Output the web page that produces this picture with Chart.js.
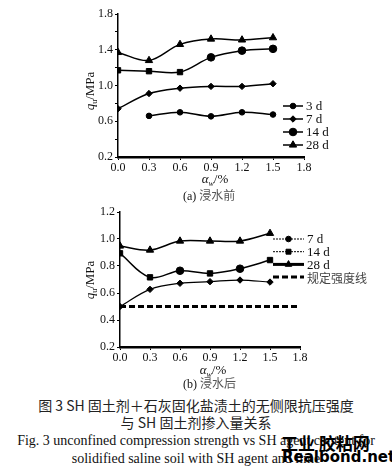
<!DOCTYPE html>
<html>
<head>
<meta charset="utf-8">
<script src="https://cdn.jsdelivr.net/npm/chart.js@4/dist/chart.umd.min.js"></script>
<style>
    body { margin: 0; background: #fff; }
    #page { position: relative; width: 392px; height: 472px; overflow: hidden; font-family: 'Liberation Serif', serif; color: #111; }
    canvas { position: absolute; left: 0; }
    .lbl { position: absolute; white-space: nowrap; line-height: 1; }
    .cjk { font-family: 'Noto Sans CJK SC', sans-serif; }
    .ytitle { transform: translate(-50%, -50%) rotate(-90deg); font-size: 13px; }
    .xtitle { transform: translate(-50%, -50%); font-size: 13px; }
    .cap { position: absolute; left: 0; width: 392px; text-align: center; font-size: 14px; line-height: 1; white-space: nowrap; }
</style>
</head>
<body>
<div id="page">
    <canvas id="chartA" width="392" height="175" style="top:0"></canvas>
    <canvas id="chartB" width="392" height="170" style="top:195px"></canvas>

    <div class="lbl ytitle" style="left:91px; top:91px"><i>q</i><sub style="font-size:8px">u</sub>/MPa</div>
    <div class="lbl xtitle" style="left:215px; top:180px"><i>α</i><sub style="font-size:8px"><i>w</i></sub>/%</div>
    <div class="lbl" style="left:183px; top:189px; font-size:12px">(a) <span class="cjk" style="color:#555">浸水前</span></div>

    <div class="lbl ytitle" style="left:91px; top:280px"><i>q</i><sub style="font-size:8px">u</sub>/MPa</div>
    <div class="lbl xtitle" style="left:213px; top:371px"><i>α</i><sub style="font-size:8px"><i>w</i></sub>/%</div>
    <div class="lbl" style="left:183px; top:377px; font-size:12px">(b) <span class="cjk" style="color:#555">浸水后</span></div>

    <div class="cap cjk" style="top:398px; font-size:14px; color:#222">图 3 SH 固土剂＋石灰固化盐渍土的无侧限抗压强度</div>
    <div class="cap cjk" style="top:415px; font-size:14px; color:#222">与 SH 固土剂掺入量关系</div>
    <div class="cap" style="top:434px">Fig. 3 unconfined compression strength vs SH agent content for</div>
    <div class="cap" style="top:452px">solidified saline soil with SH agent and lime</div>

    <div class="lbl cjk" style="left:281px; top:434px; font-size:17px; font-weight:bold; color:#000">工业 胶粘网</div>
    <div class="lbl" style="left:282px; top:450px; font-size:15px; font-weight:bold; color:#000; font-family:'DejaVu Sans', sans-serif">Realbond.net</div>
</div>

<script>
// 数据
const dosage = [0.0, 0.3, 0.6, 0.9, 1.2, 1.5];
const xTicks = [0.0, 0.3, 0.6, 0.9, 1.2, 1.5, 1.8];

// (a) 浸水前
const a3d = [null, 0.66, 0.70, 0.655, 0.70, 0.675];
const a7d = [0.74, 0.91, 0.97, 0.99, 0.99, 1.02];
const a14d = [1.17, 1.16, 1.15, 1.315, 1.39, 1.41];
const a28d = [1.37, 1.28, 1.46, 1.52, 1.51, 1.535];
const yTicksA = [0.2, 0.4, 0.6, 0.8, 1.0, 1.2, 1.4, 1.6, 1.8];
const yLabelsA = [0.2, 0.6, 1.0, 1.4, 1.8];

// (b) 浸水后
const b7d = [0.50, 0.627, 0.672, 0.684, 0.696, 0.681];
const b14d = [0.894, 0.716, 0.765, 0.745, 0.78, 0.844];
const b28d = [0.948, 0.918, 0.985, 0.985, 0.985, 1.042];
const reqStrength = 0.5;
const yTicksB = [0.2, 0.3, 0.4, 0.5, 0.6, 0.7, 0.8, 0.9, 1.0, 1.1, 1.2];
const yLabelsB = [0.2, 0.4, 0.6, 0.8, 1.0, 1.2];

const serif = "'Liberation Serif', serif";

function pts(vals) {
    return dosage.map((x, i) => ({ x: x, y: vals[i] })).filter(p => p.y !== null);
}

function lineSet(label, vals, style, radius, width) {
    return {
        label: label,
        data: pts(vals),
        borderColor: '#000',
        backgroundColor: '#000',
        borderWidth: width,
        pointStyle: style,
        pointRadius: radius,
        pointBorderWidth: 1,
        pointBackgroundColor: '#000',
        pointBorderColor: '#000',
        tension: 0.35
    };
}

// 图例：在画布上手动绘制
const manualLegend = {
    id: 'manualLegend',
    afterDraw(chart, args, opts) {
        const ctx = chart.ctx;
        ctx.save();
        opts.items.forEach((it, i) => {
            const y = opts.y0 + i * opts.dy;
            ctx.strokeStyle = '#000';
            ctx.lineWidth = it.lw;
            ctx.setLineDash(it.dash || []);
            ctx.beginPath();
            ctx.moveTo(opts.x0, y);
            ctx.lineTo(opts.x1, y);
            ctx.stroke();
            ctx.setLineDash([]);
            if (it.style) {
                ctx.fillStyle = '#000';
                ctx.lineWidth = 1;
                Chart.helpers.drawPoint(ctx, { pointStyle: it.style, radius: it.r, rotation: 0, borderWidth: 1 }, (opts.x0 + opts.x1) / 2, y);
            }
            ctx.fillStyle = it.color || '#111';
            ctx.font = it.font || ('13px ' + serif);
            ctx.textBaseline = 'middle';
            ctx.fillText(it.label, opts.x1 + 3, y + 1);
        });
        ctx.restore();
    }
};

function axes(yTicks, yLabels, yMin, yMax, yWidth, xHeight) {
    return {
        x: {
            type: 'linear',
            min: 0,
            max: 1.8,
            afterBuildTicks: s => { s.ticks = xTicks.map(v => ({ value: v })); },
            afterFit: s => { s.height = xHeight; },
            ticks: { color: '#111', font: { family: serif, size: 12 }, padding: 1, maxRotation: 0, callback: v => v.toFixed(1) },
            grid: { drawOnChartArea: false, tickLength: 3, color: '#000' },
            border: { color: '#000', width: 2.5, dash: [5, 3] }
        },
        y: {
            min: yMin,
            max: yMax,
            afterBuildTicks: s => { s.ticks = yTicks.map(v => ({ value: v })); },
            afterFit: s => { s.width = yWidth; },
            ticks: {
                color: '#111', font: { family: serif, size: 12 }, padding: 2,
                callback: v => yLabels.some(l => Math.abs(l - v) < 1e-6) ? v.toFixed(1) : ''
            },
            grid: { drawOnChartArea: false, tickLength: 3, color: '#000' },
            border: { color: '#000', width: 1.5 }
        }
    };
}

new Chart(document.getElementById('chartA'), {
    type: 'line',
    data: {
        datasets: [
            lineSet('3 d', a3d, 'circle', 2.8, 1.5),
            lineSet('7 d', a7d, 'rectRot', 3.2, 1.5),
            Object.assign(lineSet('14 d', a14d, 'circle', 3.8, 1.5), { pointStyle: ['rect', 'rect', 'rect', 'circle', 'circle', 'circle'] }),
            lineSet('28 d', a28d, 'triangle', 4.2, 1.5)
        ]
    },
    options: {
        responsive: false,
        animation: false,
        devicePixelRatio: 1,
        layout: { padding: { top: 14, right: 88, bottom: 0, left: 0 } },
        scales: axes(yTicksA, yLabelsA, 0.2, 1.8, 118, 18),
        plugins: {
            legend: { display: false },
            tooltip: { enabled: false },
            manualLegend: {
                x0: 283, x1: 303, y0: 106, dy: 13,
                items: [
                    { label: '3 d', style: 'circle', r: 2.8, lw: 1.5 },
                    { label: '7 d', style: 'rectRot', r: 3.2, lw: 1.5 },
                    { label: '14 d', style: 'circle', r: 3.8, lw: 1.5 },
                    { label: '28 d', style: 'triangle', r: 4.2, lw: 1.5 }
                ]
            }
        }
    },
    plugins: [manualLegend]
});

new Chart(document.getElementById('chartB'), {
    type: 'line',
    data: {
        datasets: [
            lineSet('7 d', b7d, 'rectRot', 3.2, 1.2),
            Object.assign(lineSet('14 d', b14d, 'circle', 3.8, 1.5), { pointStyle: ['rect', 'rect', 'circle', 'rect', 'circle', 'rect'] }),
            lineSet('28 d', b28d, 'triangle', 4.2, 1.5),
            {
                label: '规定强度线',
                data: [{ x: 0, y: reqStrength }, { x: 1.8, y: reqStrength }],
                borderColor: '#000',
                borderWidth: 3,
                borderDash: [6, 3],
                pointRadius: 0
            }
        ]
    },
    options: {
        responsive: false,
        animation: false,
        devicePixelRatio: 1,
        layout: { padding: { top: 17, right: 92, bottom: 0, left: 0 } },
        scales: axes(yTicksB, yLabelsB, 0.2, 1.2, 120, 18),
        plugins: {
            legend: { display: false },
            tooltip: { enabled: false },
            manualLegend: {
                x0: 273, x1: 304, y0: 44, dy: 12.7,
                items: [
                    { label: '7 d', style: 'circle', r: 2.8, lw: 1, dash: [2, 1] },
                    { label: '14 d', style: 'rect', r: 3.5, lw: 1, dash: [2, 1] },
                    { label: '28 d', style: 'triangle', r: 3.8, lw: 3 },
                    { label: '规定强度线', lw: 3, dash: [6, 3], font: "12px 'Noto Sans CJK SC', sans-serif", color: '#444' }
                ]
            }
        }
    },
    plugins: [manualLegend]
});
</script>
</body>
</html>
